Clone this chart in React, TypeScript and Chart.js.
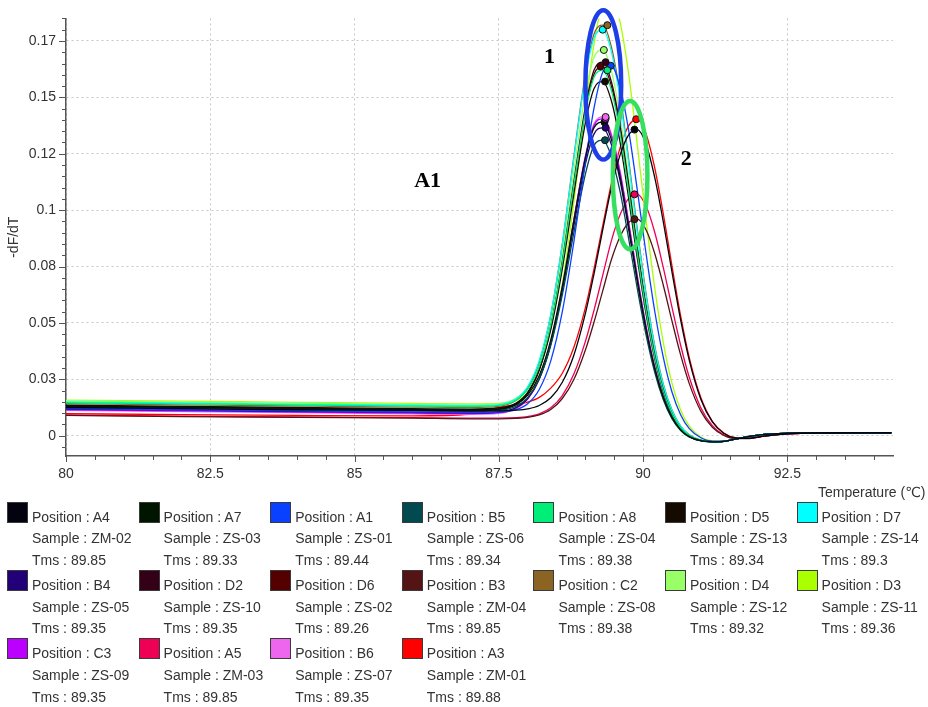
import React, { useEffect, useRef } from 'react';
import { Chart, registerables } from 'chart.js';

Chart.register(...registerables);

// ---------- data ----------
const TEMPS = [80, 82, 84, 86, 87, 87.5, 87.8, 88.0, 88.2, 88.4, 88.6, 88.8, 89.0, 89.15, 89.3, 89.45, 89.6, 89.75, 89.9, 90.05, 90.2, 90.35, 90.5, 90.65, 90.8, 91.0, 91.2, 91.4, 91.6, 91.8, 92.1, 92.5, 93.2, 94.3];

const A4 = [0.0125, 0.0120, 0.0115, 0.0112, 0.0110, 0.0110, 0.0113, 0.0119, 0.0134, 0.0168, 0.0237, 0.0357, 0.0542, 0.0719, 0.0912, 0.1099, 0.1244, 0.1334, 0.1357, 0.1293, 0.1146, 0.0948, 0.0726, 0.0513, 0.0334, 0.0162, 0.0061, 0.0010, -0.0010, -0.0012, -0.0002, 0.0008, 0.0012, 0.0013];
const A7 = [0.0132, 0.0127, 0.0122, 0.0117, 0.0115, 0.0119, 0.0139, 0.0180, 0.0267, 0.0425, 0.0663, 0.0955, 0.1232, 0.1366, 0.139, 0.1313, 0.1150, 0.0927, 0.0691, 0.0476, 0.0300, 0.0169, 0.0081, 0.0026, -0.0004, -0.0022, -0.0027, -0.0025, -0.0015, -0.0005, 0.0006, 0.0011, 0.0013, 0.0013];
const A1 = [0.0120, 0.0115, 0.0110, 0.0105, 0.0103, 0.0105, 0.0116, 0.0142, 0.0205, 0.0332, 0.0550, 0.0859, 0.1213, 0.1453, 0.1611, 0.164, 0.1545, 0.1352, 0.1088, 0.0809, 0.0554, 0.0347, 0.0194, 0.0093, 0.0031, -0.0009, -0.0024, -0.0024, -0.0015, -0.0005, 0.0006, 0.0011, 0.0013, 0.0013];
const B5 = [0.0125, 0.0120, 0.0115, 0.0110, 0.0108, 0.0112, 0.0131, 0.0169, 0.0251, 0.0400, 0.0624, 0.0900, 0.1160, 0.1287, 0.131, 0.1237, 0.1083, 0.0873, 0.0651, 0.0448, 0.0282, 0.0159, 0.0075, 0.0023, -0.0006, -0.0023, -0.0027, -0.0025, -0.0015, -0.0005, 0.0006, 0.0011, 0.0013, 0.0013];
const A8 = [0.0146, 0.0141, 0.0136, 0.0131, 0.0129, 0.0134, 0.0157, 0.0205, 0.0307, 0.0491, 0.0769, 0.1111, 0.1434, 0.1589, 0.162, 0.1531, 0.1342, 0.1082, 0.0807, 0.0557, 0.0352, 0.0200, 0.0098, 0.0035, 0.0000, -0.0021, -0.0027, -0.0025, -0.0015, -0.0005, 0.0006, 0.0011, 0.0013, 0.0013];
const D5 = [0.0135, 0.0130, 0.0125, 0.0120, 0.0118, 0.0123, 0.0145, 0.0191, 0.0291, 0.0470, 0.0740, 0.1072, 0.1387, 0.1539, 0.157, 0.1485, 0.1302, 0.1051, 0.0785, 0.0541, 0.0342, 0.0194, 0.0095, 0.0033, -0.0001, -0.0021, -0.0027, -0.0025, -0.0015, -0.0005, 0.0006, 0.0011, 0.0013, 0.0013];
const D7 = [0.0150, 0.0145, 0.0140, 0.0135, 0.0133, 0.0138, 0.0164, 0.0217, 0.0332, 0.0537, 0.0848, 0.1229, 0.1590, 0.1763, 0.180, 0.1703, 0.1494, 0.1207, 0.0901, 0.0623, 0.0394, 0.0225, 0.0112, 0.0042, 0.0003, -0.0020, -0.0026, -0.0025, -0.0015, -0.0005, 0.0006, 0.0011, 0.0013, 0.0013];
const B4 = [0.0118, 0.0113, 0.0108, 0.0103, 0.0101, 0.0105, 0.0125, 0.0165, 0.0251, 0.0407, 0.0642, 0.0930, 0.1204, 0.1338, 0.1365, 0.1291, 0.1132, 0.0914, 0.0682, 0.0470, 0.0296, 0.0167, 0.0080, 0.0026, -0.0004, -0.0022, -0.0027, -0.0025, -0.0015, -0.0005, 0.0006, 0.0011, 0.0013, 0.0013];
const D2 = [0.0130, 0.0125, 0.0120, 0.0115, 0.0113, 0.0118, 0.0142, 0.0191, 0.0296, 0.0486, 0.0773, 0.1125, 0.1458, 0.1621, 0.1656, 0.1569, 0.1377, 0.1113, 0.0832, 0.0574, 0.0363, 0.0207, 0.0102, 0.0037, 0.0001, -0.0021, -0.0026, -0.0025, -0.0015, -0.0005, 0.0006, 0.0011, 0.0013, 0.0013];
const D6 = [0.0128, 0.0123, 0.0118, 0.0113, 0.0111, 0.0116, 0.0139, 0.0188, 0.0292, 0.0480, 0.0763, 0.1111, 0.1440, 0.1602, 0.1637, 0.1550, 0.1361, 0.1100, 0.0822, 0.0568, 0.0359, 0.0204, 0.0100, 0.0036, 0.0000, -0.0021, -0.0026, -0.0025, -0.0015, -0.0005, 0.0006, 0.0011, 0.0013, 0.0013];
const B3 = [0.0090, 0.0085, 0.0081, 0.0078, 0.0075, 0.0075, 0.0077, 0.0081, 0.0092, 0.0116, 0.0165, 0.0249, 0.0380, 0.0504, 0.0642, 0.0780, 0.0882, 0.0945, 0.096, 0.0913, 0.0809, 0.0667, 0.0509, 0.0358, 0.0231, 0.0109, 0.0037, 0.0001, -0.0013, -0.0013, -0.0002, 0.0008, 0.0012, 0.0013];
const C2 = [0.0142, 0.0137, 0.0132, 0.0127, 0.0125, 0.0130, 0.0157, 0.0211, 0.0326, 0.0535, 0.0850, 0.1237, 0.1603, 0.1781, 0.182, 0.1724, 0.1514, 0.1224, 0.0914, 0.0632, 0.0400, 0.0229, 0.0114, 0.0043, 0.0004, -0.0020, -0.0026, -0.0025, -0.0015, -0.0005, 0.0006, 0.0011, 0.0013, 0.0013];
const D4 = [0.0154, 0.0149, 0.0144, 0.0139, 0.0137, 0.0142, 0.0166, 0.0217, 0.0325, 0.0520, 0.0813, 0.1174, 0.1516, 0.1678, 0.171, 0.1617, 0.1417, 0.1143, 0.0853, 0.0589, 0.0373, 0.0213, 0.0105, 0.0038, 0.0001, -0.0021, -0.0026, -0.0025, -0.0015, -0.0005, 0.0006, 0.0011, 0.0013, 0.0013];
const D3 = [0.0158, 0.0153, 0.0148, 0.0143, 0.0141, 0.0143, 0.0156, 0.0187, 0.0261, 0.0412, 0.0670, 0.1035, 0.1454, 0.1738, 0.1918, 0.195, 0.1835, 0.1603, 0.1288, 0.0957, 0.0657, 0.0413, 0.0233, 0.0114, 0.0042, -0.0006, -0.0023, -0.0024, -0.0015, -0.0005, 0.0006, 0.0011, 0.0013, 0.0013];
const C3 = [0.0115, 0.0110, 0.0105, 0.0100, 0.0098, 0.0102, 0.0122, 0.0164, 0.0253, 0.0414, 0.0656, 0.0954, 0.1236, 0.1376, 0.1405, 0.1330, 0.1167, 0.0943, 0.0704, 0.0485, 0.0306, 0.0173, 0.0083, 0.0027, -0.0004, -0.0022, -0.0027, -0.0025, -0.0015, -0.0005, 0.0006, 0.0011, 0.0013, 0.0013];
const A5 = [0.0092, 0.0087, 0.0083, 0.0080, 0.0078, 0.0078, 0.0080, 0.0085, 0.0097, 0.0124, 0.0178, 0.0273, 0.0418, 0.0557, 0.0711, 0.0864, 0.0979, 0.1052, 0.107, 0.1018, 0.0903, 0.0745, 0.0570, 0.0401, 0.0259, 0.0124, 0.0044, 0.0003, -0.0012, -0.0012, -0.0002, 0.0008, 0.0012, 0.0013];
const B6 = [0.0112, 0.0107, 0.0102, 0.0097, 0.0095, 0.0099, 0.0120, 0.0161, 0.0251, 0.0413, 0.0658, 0.0958, 0.1242, 0.1383, 0.1413, 0.1338, 0.1175, 0.0949, 0.0709, 0.0489, 0.0308, 0.0174, 0.0084, 0.0028, -0.0004, -0.0022, -0.0027, -0.0025, -0.0015, -0.0005, 0.0006, 0.0011, 0.0013, 0.0013];
const A3 = [0.0098, 0.0093, 0.0090, 0.0088, 0.0095, 0.0125, 0.0138, 0.0149, 0.0170, 0.0211, 0.0277, 0.0392, 0.0568, 0.0741, 0.0931, 0.1119, 0.1276, 0.1375, 0.1403, 0.1339, 0.1189, 0.0983, 0.0753, 0.0532, 0.0346, 0.0169, 0.0064, 0.0012, -0.0009, -0.0011, -0.0002, 0.0008, 0.0012, 0.0013];

const SERIES = [A4, A7, A1, B5, A8, D5, D7, B4, D2, D6, B3, C2, D4, D3, C3, A5, B6, A3];
const POSITIONS = ['A4', 'A7', 'A1', 'B5', 'A8', 'D5', 'D7', 'B4', 'D2', 'D6', 'B3', 'C2', 'D4', 'D3', 'C3', 'A5', 'B6', 'A3'];
const SAMPLES = ['ZM-02', 'ZS-03', 'ZS-01', 'ZS-06', 'ZS-04', 'ZS-13', 'ZS-14', 'ZS-05', 'ZS-10', 'ZS-02', 'ZM-04', 'ZS-08', 'ZS-12', 'ZS-11', 'ZS-09', 'ZM-03', 'ZS-07', 'ZM-01'];
const TMS = [89.85, 89.33, 89.44, 89.34, 89.38, 89.34, 89.3, 89.35, 89.35, 89.26, 89.85, 89.38, 89.32, 89.36, 89.35, 89.85, 89.35, 89.88];
const PEAKS = [0.1357, 0.139, 0.164, 0.131, 0.162, 0.157, 0.180, 0.1365, 0.1656, 0.1637, 0.096, 0.182, 0.171, 0.195, 0.1405, 0.107, 0.1413, 0.1403];
const COLORS = ['#03030f', '#001500', '#0a40ff', '#004a50', '#00ee77', '#140a00', '#00ffff', '#220077', '#330018', '#550000', '#551414', '#8b6322', '#99ff66', '#aaff00', '#bb00ff', '#ee0055', '#ee66ee', '#ff0000'];

const Y_TICKS = [0, 0.025, 0.05, 0.075, 0.1, 0.125, 0.15, 0.175];
const Y_TICK_LABELS = ['0', '0.03', '0.05', '0.08', '0.1', '0.12', '0.15', '0.17'];
const X_TICKS = [80, 82.5, 85, 87.5, 90, 92.5];
const X_TICK_LABELS = ['80', '82.5', '85', '87.5', '90', '92.5'];

// annotation overlays (in data units)
const ELLIPSES = [
  { cx: 89.31, cy: 0.1555, rx: 0.31, ry: 0.0331, color: '#1e3ee8' },
  { cx: 89.775, cy: 0.1155, rx: 0.30, ry: 0.0329, color: '#35e060' },
];
const NOTES = [
  { x: 88.38, y: 0.1678, text: '1' },
  { x: 90.746, y: 0.1226, text: '2' },
  { x: 86.267, y: 0.1126, text: 'A1' },
];

// ---------- styling ----------
const FONT = '"Liberation Sans", Arial, "DejaVu Sans", sans-serif';
const TEXT_COLOR = '#333333';
const AXIS_COLOR = '#555555';
const Y_MINOR = 0.005;
const X_MINOR = 0.5;

const decorPlugin = {
  id: 'decor',
  afterDraw(chart: any) {
    const { ctx, chartArea } = chart;
    const x = chart.scales.x;
    const y = chart.scales.y;
    ctx.save();
    ctx.strokeStyle = AXIS_COLOR;
    ctx.lineWidth = 1;
    const ky0 = Math.ceil(y.min / Y_MINOR - 1e-9);
    for (let k = ky0; k * Y_MINOR <= y.max + 1e-9; k++) {
      const py = Math.round(y.getPixelForValue(k * Y_MINOR)) + 0.5;
      const len = k % 5 === 0 ? 7 : 4;
      ctx.beginPath();
      ctx.moveTo(chartArea.left - len, py);
      ctx.lineTo(chartArea.left, py);
      ctx.stroke();
    }
    const kx0 = Math.ceil(x.min / X_MINOR - 1e-9);
    for (let k = kx0; k * X_MINOR <= x.max + 1e-9; k++) {
      const px = Math.round(x.getPixelForValue(k * X_MINOR)) + 0.5;
      const len = k % 5 === 0 ? 6 : 4;
      ctx.beginPath();
      ctx.moveTo(px, chartArea.bottom);
      ctx.lineTo(px, chartArea.bottom + len);
      ctx.stroke();
    }
    ELLIPSES.forEach((e) => {
      const cx = x.getPixelForValue(e.cx);
      const cy = y.getPixelForValue(e.cy);
      const rx = Math.abs(x.getPixelForValue(e.cx + e.rx) - cx);
      const ry = Math.abs(y.getPixelForValue(e.cy + e.ry) - cy);
      ctx.beginPath();
      ctx.ellipse(cx, cy, rx, ry, 0, 0, Math.PI * 2);
      ctx.strokeStyle = e.color;
      ctx.lineWidth = 4.5;
      ctx.stroke();
    });
    ctx.fillStyle = '#000';
    ctx.font = 'bold 22px "Liberation Serif", "Times New Roman", serif';
    ctx.textAlign = 'center';
    ctx.textBaseline = 'middle';
    NOTES.forEach((n) => {
      ctx.fillText(n.text, x.getPixelForValue(n.x), y.getPixelForValue(n.y));
    });
    ctx.restore();
  },
};

export default function App() {
  const ref = useRef<HTMLCanvasElement>(null);

  useEffect(() => {
    const canvas = ref.current;
    if (!canvas) return;
    const lineSets: any[] = SERIES.map((vals, i) => ({
      type: 'line',
      label: POSITIONS[i],
      data: TEMPS.map((t, j) => ({ x: t, y: vals[j] })),
      borderColor: COLORS[i],
      backgroundColor: COLORS[i],
      borderWidth: 1.3,
      pointRadius: 0,
      cubicInterpolationMode: 'monotone',
      fill: false,
      order: 1,
    }));
    const peakSet: any = {
      type: 'line',
      label: 'Tm',
      data: TMS.map((t, i) => ({ x: t, y: PEAKS[i] })),
      showLine: false,
      pointRadius: 3.5,
      pointBorderWidth: 1,
      pointBorderColor: '#111111',
      pointBackgroundColor: COLORS,
      order: 0,
    };
    const chart = new Chart(canvas, {
      type: 'line',
      data: { datasets: [peakSet, ...lineSets] },
      options: {
        animation: false,
        responsive: false,
        devicePixelRatio: 1,
        layout: { padding: { left: 0, right: 35, top: 17, bottom: 0 } },
        plugins: { legend: { display: false }, tooltip: { enabled: false } },
        scales: {
          x: {
            type: 'linear',
            min: 80,
            max: 94.33,
            afterFit: (s: any) => { s.height = 54; },
            afterBuildTicks: (s: any) => { s.ticks = X_TICKS.map((v) => ({ value: v })); },
            ticks: {
              autoSkip: false,
              maxRotation: 0,
              padding: 10,
              color: TEXT_COLOR,
              font: { family: FONT, size: 14 },
              callback: (_v: any, i: number) => X_TICK_LABELS[i],
            },
            grid: { color: '#c6c6c6', lineWidth: 1, drawTicks: false },
            border: { display: true, color: AXIS_COLOR, width: 1.5, dash: [2, 3] },
          },
          y: {
            type: 'linear',
            min: -0.009,
            max: 0.185,
            afterFit: (s: any) => { s.width = 66; },
            afterBuildTicks: (s: any) => { s.ticks = Y_TICKS.map((v) => ({ value: v })); },
            ticks: {
              autoSkip: false,
              padding: 10,
              color: TEXT_COLOR,
              font: { family: FONT, size: 14 },
              callback: (_v: any, i: number) => Y_TICK_LABELS[i],
            },
            grid: { color: '#c6c6c6', lineWidth: 1, drawTicks: false },
            border: { display: true, color: AXIS_COLOR, width: 1.5, dash: [2, 3] },
            title: {
              display: true,
              text: '-dF/dT',
              color: TEXT_COLOR,
              font: { family: FONT, size: 14 },
              padding: { top: 6, bottom: 0 },
            },
          },
        },
      } as any,
      plugins: [decorPlugin],
    });
    return () => chart.destroy();
  }, []);

  const colW = 131.6;
  const rowH = 68.3;

  return (
    <div style={{ position: 'absolute', left: 0, top: 0, width: 928, height: 707, background: '#ffffff', overflow: 'hidden' }}>
      <canvas ref={ref} width={928} height={510} style={{ position: 'absolute', left: 0, top: 0, width: 928, height: 510 }} />
      <div style={{ position: 'absolute', left: 818, top: 483, font: `14px ${FONT}`, color: TEXT_COLOR, whiteSpace: 'nowrap', lineHeight: '18px' }}>
        Temperature (℃)
      </div>
      {POSITIONS.map((p, i) => {
        const col = i % 7;
        const row = Math.floor(i / 7);
        return (
          <div key={p} style={{ position: 'absolute', left: 7 + col * colW, top: 501.5 + row * rowH, width: 130, height: 68 }}>
            <div style={{ position: 'absolute', left: 0, top: 0, width: 19, height: 19, background: COLORS[i], border: '1px solid #3a3a3a' }} />
            <div style={{ position: 'absolute', left: 25, top: 5, font: `14px ${FONT}`, lineHeight: '21.7px', color: TEXT_COLOR, whiteSpace: 'nowrap' }}>
              <div>Position : {p}</div>
              <div>Sample : {SAMPLES[i]}</div>
              <div>Tms : {String(TMS[i])}</div>
            </div>
          </div>
        );
      })}
    </div>
  );
}
